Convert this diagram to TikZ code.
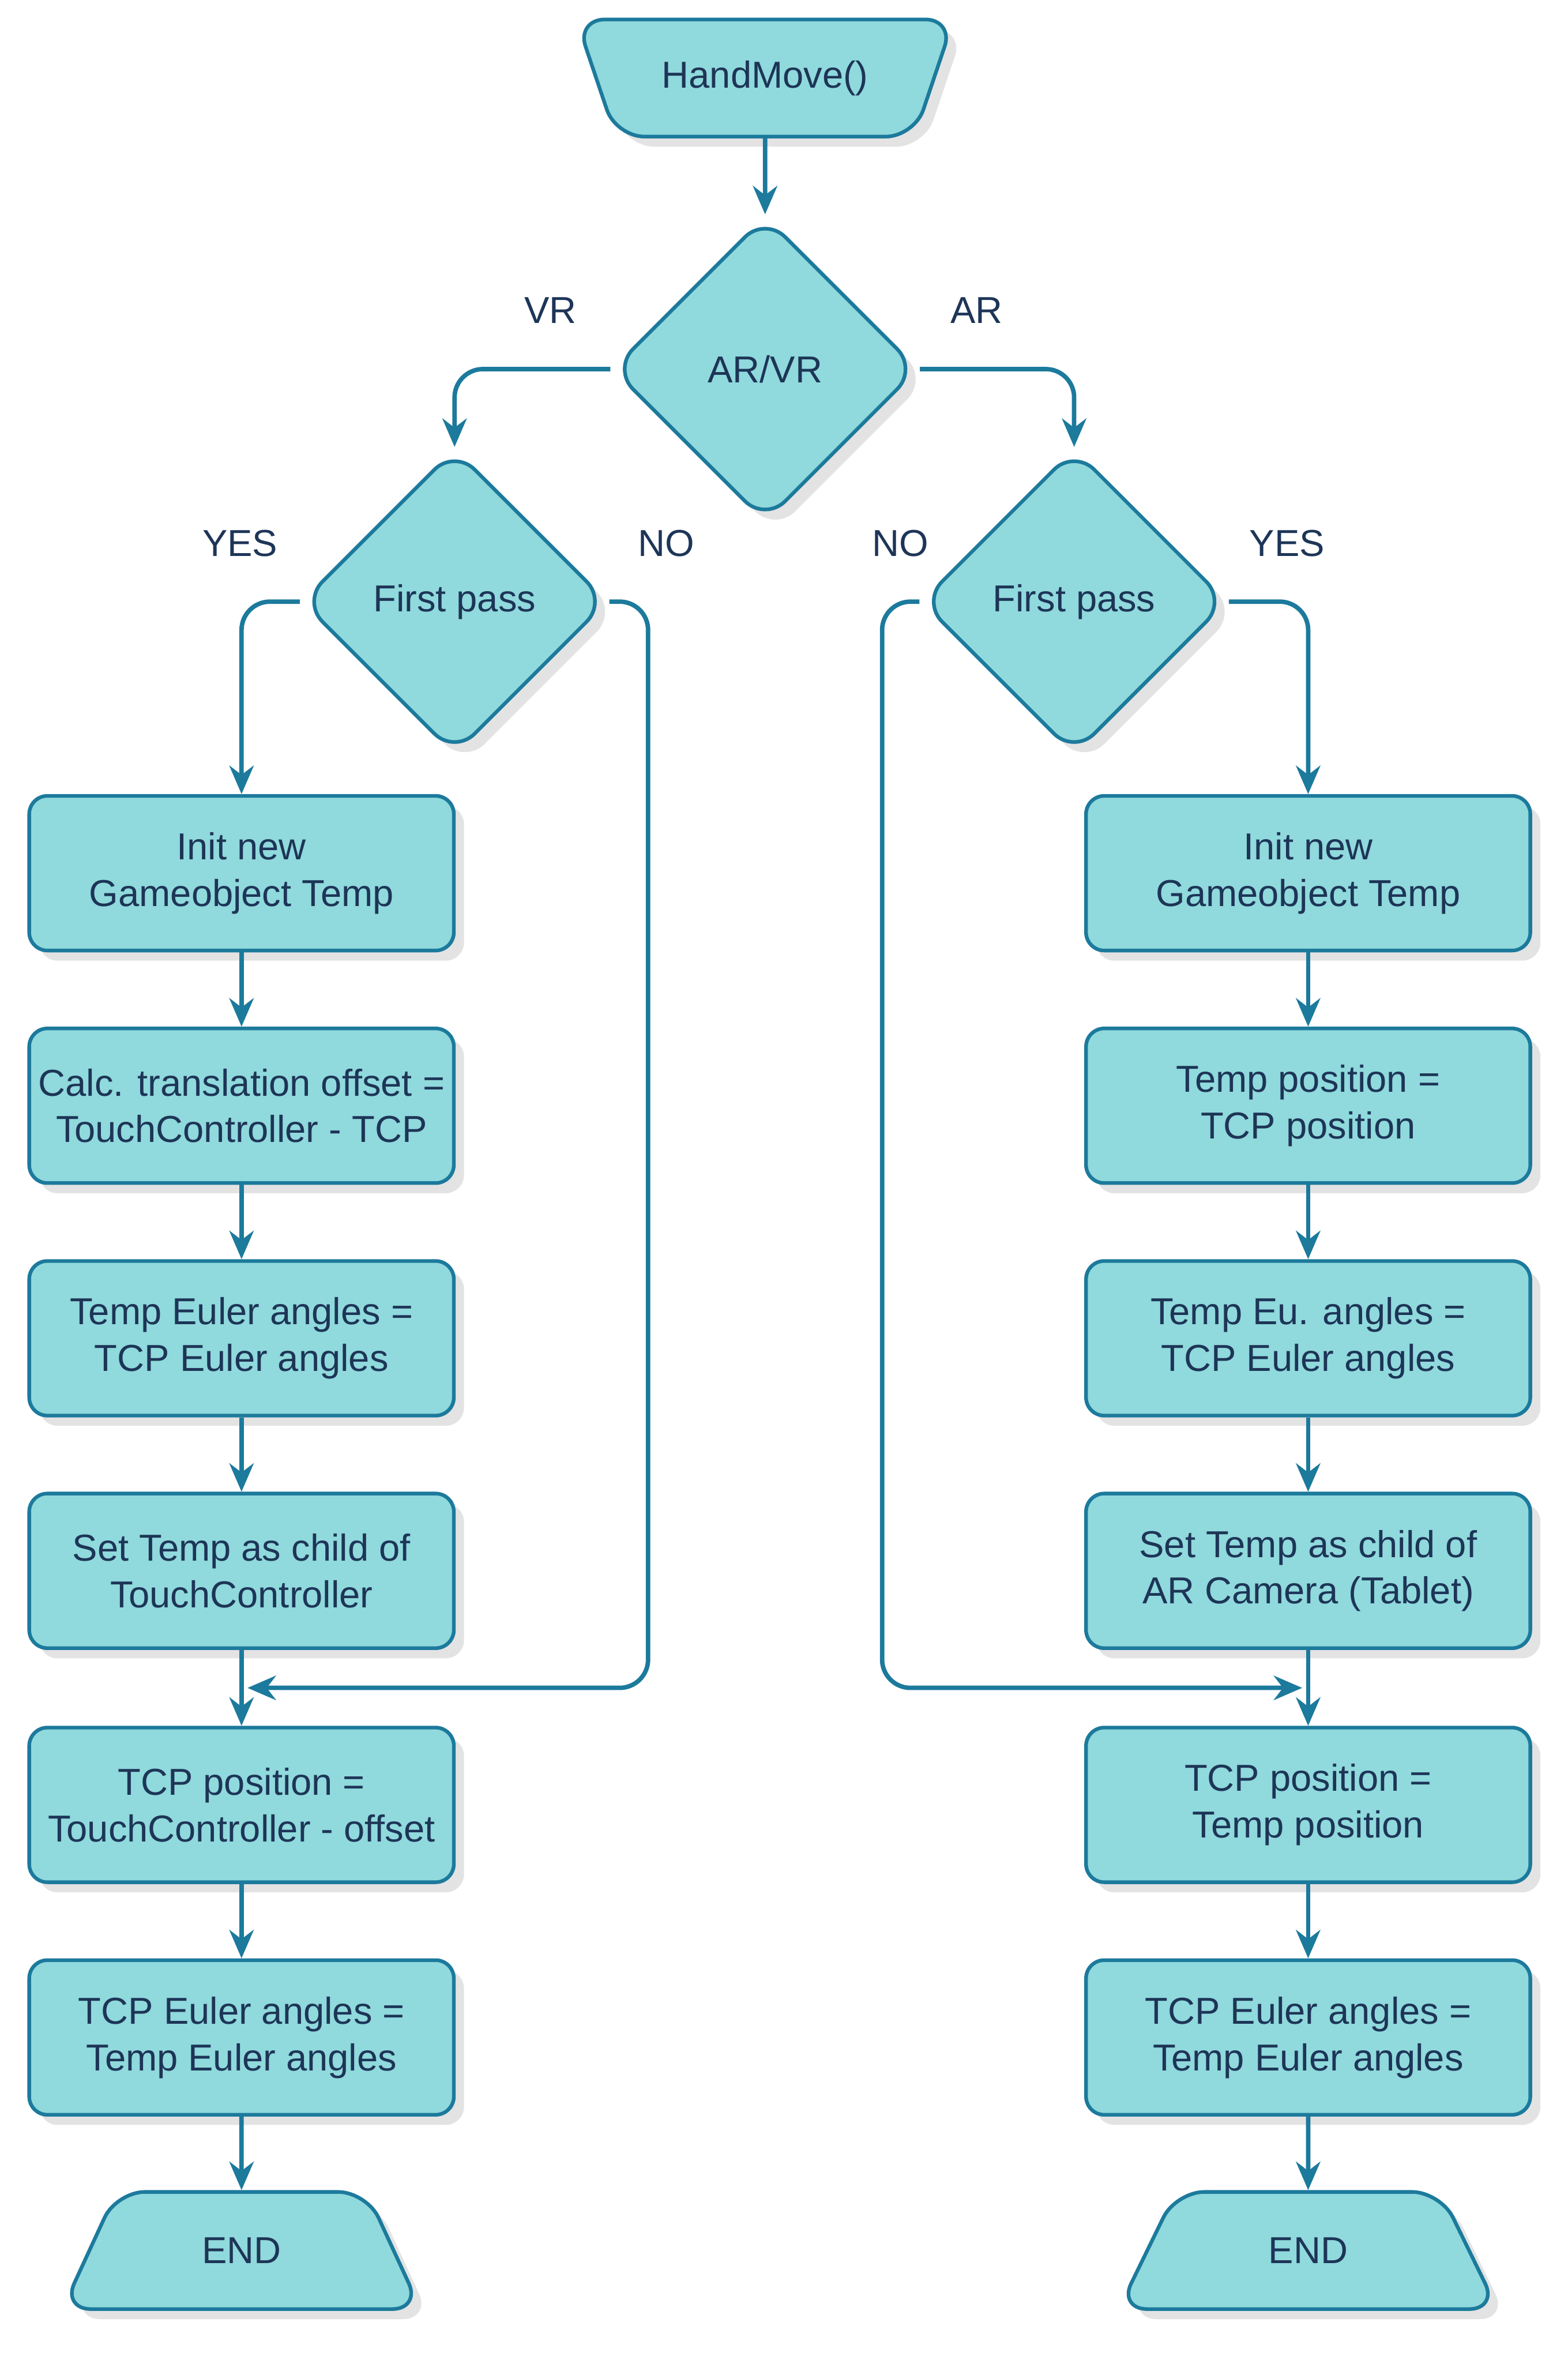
\documentclass[tikz,border=0pt]{standalone}
\usepackage{fontspec}
\setmainfont{Liberation Sans}
\usetikzlibrary{shapes.geometric,arrows.meta,shadows}
\definecolor{boxfill}{HTML}{90D9DC}
\definecolor{boxline}{HTML}{1C7A9C}
\definecolor{txt}{HTML}{1D3557}
\begin{document}
\begin{tikzpicture}[x=0.026cm,y=-0.026cm,
  font=\fontsize{18.5}{23}\selectfont, text=txt,
  base/.style={draw=boxline, fill=boxfill, line width=1.8pt, align=center,
    drop shadow={opacity=0.22, shadow xshift=5pt, shadow yshift=-5pt}},
  proc/.style={base, rectangle, rounded corners=9pt, minimum height=2.68cm},
  dec/.style={base, diamond, rounded corners=14pt, minimum width=5.3cm, minimum height=5.3cm, inner sep=0pt},
  term/.style={base, trapezium, trapezium stretches=true, rounded corners=14pt, minimum height=2.03cm},
  lab/.style={text=txt},
  arr/.style={draw=boxline, line width=2.2pt, rounded corners=14pt, -{Stealth[length=14pt,width=12pt]}}]
\useasboundingbox (0,0) rectangle (1045,1573);

% start and AR/VR
\node[term, shape border rotate=180, trapezium left angle=59, trapezium right angle=59, minimum width=6.55cm] (start) at (510,52) {HandMove()};
\node[dec] (arvr) at (510,246) {AR/VR};
\node[lab] at (367,207) {VR};
\node[lab] at (651,207) {AR};

% VR side
\node[dec] (lfp) at (303,401) {First pass};
\node[lab] at (160,362) {YES};
\node[lab] at (444,362) {NO};
\foreach \name/\y/\text in {
    l1/582/{Init new\\Gameobject Temp},
    l2/737/{Calc. translation offset =\\TouchController - TCP},
    l3/892/{Temp Euler angles =\\TCP Euler angles},
    l4/1047/{Set Temp as child of\\TouchController},
    l5/1203/{TCP position =\\TouchController - offset},
    l6/1358/{TCP Euler angles =\\Temp Euler angles}} {
    \node[proc, minimum width=7.36cm, inner sep=1pt] (\name) at (161,\y) {\text};
}
\node[term, trapezium left angle=63, trapezium right angle=63, minimum width=6.24cm] (lend) at (161,1500) {END};

% AR side
\node[dec] (rfp) at (716,401) {First pass};
\node[lab] at (600,362) {NO};
\node[lab] at (858,362) {YES};
\foreach \name/\y/\text in {
    r1/582/{Init new\\Gameobject Temp},
    r2/737/{Temp position =\\TCP position},
    r3/892/{Temp Eu. angles =\\TCP Euler angles},
    r4/1047/{Set Temp as child of\\AR Camera (Tablet)},
    r5/1203/{TCP position =\\Temp position},
    r6/1358/{TCP Euler angles =\\Temp Euler angles}} {
    \node[proc, minimum width=7.7cm] (\name) at (872,\y) {\text};
}
\node[term, trapezium left angle=63, trapezium right angle=63, minimum width=6.6cm] (rend) at (872,1500) {END};

% connectors
\coordinate (lno) at (432,1125);
\coordinate (lj) at (165,1125);
\coordinate (rno) at (588,1125);
\coordinate (rj) at (868,1125);
\draw[arr] (start) -- (arvr);
\draw[arr] (arvr.west) -| (lfp.north);
\draw[arr] (arvr.east) -| (rfp.north);
\draw[arr] (lfp.west) -| (l1.north);
\draw[arr] (rfp.east) -| (r1.north);
\draw[arr] (lfp.east) -| (lno) -- (lj);
\draw[arr] (rfp.west) -| (rno) -- (rj);
\foreach \a/\b in {l1/l2,l2/l3,l3/l4,l4/l5,l5/l6,l6/lend,r1/r2,r2/r3,r3/r4,r4/r5,r5/r6,r6/rend} {
    \draw[arr] (\a) -- (\b);
}
\end{tikzpicture}
\end{document}
